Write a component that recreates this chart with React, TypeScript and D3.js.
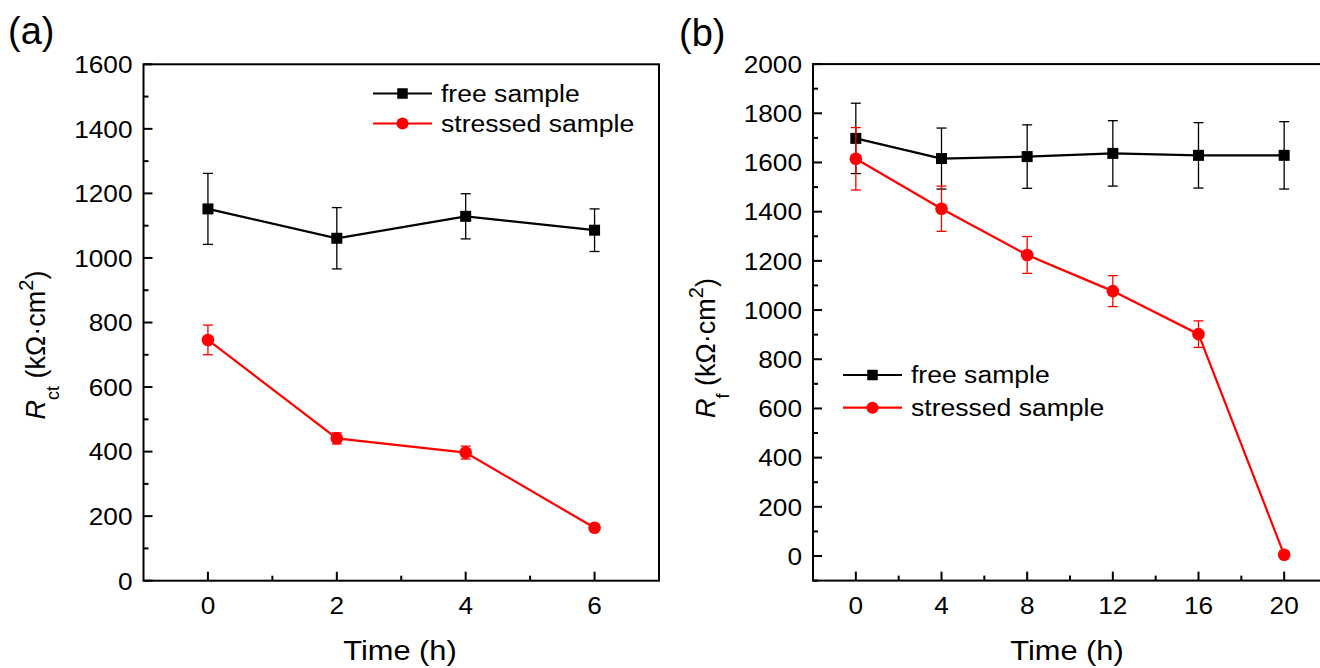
import React from 'react';
import * as d3 from 'd3';

const timesA = [0, 2, 4, 6];
const freeA = [1152, 1061, 1129, 1086];
const freeAErr = [110, 95, 70, 66];
const stressA = [746, 441, 397, 164];
const stressAErr = [46, 17, 20, 4];

const timesB = [0, 4, 8, 12, 16, 20];
const freeB = [1698, 1616, 1624, 1637, 1629, 1629];
const freeBErr = [143, 124, 129, 133, 133, 137];
const stressB = [1615, 1412, 1224, 1077, 902, 5];
const stressBErr = [127, 92, 75, 63, 54, 0];

const xTicksA = [0, 2, 4, 6];
const xMinorA = [1, 3, 5];
const yTicksA = [0, 200, 400, 600, 800, 1000, 1200, 1400, 1600];
const yMinorA = [100, 300, 500, 700, 900, 1100, 1300, 1500];

const xTicksB = [0, 4, 8, 12, 16, 20];
const xMinorB = [2, 6, 10, 14, 18];
const yTicksB = [0, 200, 400, 600, 800, 1000, 1200, 1400, 1600, 1800, 2000];
const yMinorB = [-100, 100, 300, 500, 700, 900, 1100, 1300, 1500, 1700, 1900];

const legendLabels = ['free sample', 'stressed sample'];

const FONT = '"Liberation Sans", Arial, Helvetica, sans-serif';
const RED = '#ff0000';

type Series = { xs: number[]; ys: number[]; errs: number[]; color: string; marker: 'square' | 'circle' };

function Marker({ x, y, color, kind, size }: { x: number; y: number; color: string; kind: string; size: number }) {
  if (kind === 'square') return <rect x={x - size / 2} y={y - size / 2} width={size} height={size} fill={color} />;
  return <circle cx={x} cy={y} r={size / 2 + 0.8} fill={color} />;
}

function SText(props: { x: number; y: number; sx: number; size: number; anchor?: string; dy?: string; children: any }) {
  return (
    <text transform={`translate(${props.x},${props.y}) scale(${props.sx},1)`} textAnchor={props.anchor || 'start'}
      fontSize={props.size} dy={props.dy}>{props.children}</text>
  );
}

function Panel(props: {
  left: number; right: number; top: number; bottom: number;
  xDomain: [number, number]; yDomain: [number, number];
  xTicks: number[]; xMinor: number[]; yTicks: number[]; yMinor: number[];
  series: Series[]; letter: string; letterX: number; letterY: number;
  sub: string; ylabelX: number; ylabelY: number;
  legendX: number; legendY: number; legendGap: number; xTitleX: number;
}) {
  const { left, right, top, bottom } = props;
  const x = d3.scaleLinear().domain(props.xDomain).range([left, right]);
  const y = d3.scaleLinear().domain(props.yDomain).range([bottom, top]);
  const line = d3.line<[number, number]>().x(d => x(d[0])).y(d => y(d[1]));
  const msize = 11;
  return (
    <g fontFamily={FONT}>
      <rect x={left} y={top} width={right - left} height={bottom - top} fill="none" stroke="#000" strokeWidth={2} />
      {props.yTicks.map(t => (
        <g key={'y' + t}>
          <line x1={left} x2={left + 9} y1={y(t)} y2={y(t)} stroke="#000" strokeWidth={2} />
          <SText x={left - 11} y={y(t)} dy="0.36em" anchor="end" size={24.5} sx={1.07}>{t}</SText>
        </g>
      ))}
      {props.yMinor.map(t => (
        <line key={'ym' + t} x1={left} x2={left + 5} y1={y(t)} y2={y(t)} stroke="#000" strokeWidth={2} />
      ))}
      {props.xTicks.map(t => (
        <g key={'x' + t}>
          <line x1={x(t)} x2={x(t)} y1={bottom} y2={bottom - 9} stroke="#000" strokeWidth={2} />
          <SText x={x(t)} y={bottom + 33.5} anchor="middle" size={24.5} sx={1.07}>{t}</SText>
        </g>
      ))}
      {props.xMinor.map(t => (
        <line key={'xm' + t} x1={x(t)} x2={x(t)} y1={bottom} y2={bottom - 5} stroke="#000" strokeWidth={2} />
      ))}
      {props.series.map((s, si) => {
        const pts = s.xs.map((xv, i) => [xv, s.ys[i]] as [number, number]);
        return (
          <g key={'s' + si}>
            <path d={line(pts) || ''} fill="none" stroke={s.color} strokeWidth={2.2} />
            {pts.map((p, i) => s.errs[i] > 0 ? (
              <g key={'e' + i} stroke={s.color} strokeWidth={1.3}>
                <line x1={x(p[0])} x2={x(p[0])} y1={y(p[1] - s.errs[i])} y2={y(p[1] + s.errs[i])} />
                <line x1={x(p[0]) - 5} x2={x(p[0]) + 5} y1={y(p[1] - s.errs[i])} y2={y(p[1] - s.errs[i])} />
                <line x1={x(p[0]) - 5} x2={x(p[0]) + 5} y1={y(p[1] + s.errs[i])} y2={y(p[1] + s.errs[i])} />
              </g>
            ) : null)}
            {pts.map((p, i) => (
              <Marker key={'m' + i} x={x(p[0])} y={y(p[1])} color={s.color} kind={s.marker} size={msize} />
            ))}
          </g>
        );
      })}
      {props.series.map((s, i) => {
        const ly = props.legendY + i * props.legendGap;
        return (
          <g key={'l' + i}>
            <line x1={props.legendX} x2={props.legendX + 59} y1={ly} y2={ly} stroke={s.color} strokeWidth={2.2} />
            <Marker x={props.legendX + 29.5} y={ly} color={s.color} kind={s.marker} size={10.5} />
            <SText x={props.legendX + 68} y={ly} dy="0.36em" size={23.5} sx={1.13}>{legendLabels[i]}</SText>
          </g>
        );
      })}
      <SText x={props.xTitleX} y={660} anchor="middle" size={28} sx={1.1}>Time (h)</SText>
      <text transform={`translate(${props.ylabelX},${props.ylabelY}) rotate(-90)`} textAnchor="middle" fontSize={27}>
        <tspan fontStyle="italic">R</tspan>
        <tspan fontSize={18} dy={14}>{props.sub}</tspan>
        <tspan dy={-14}>{' (kΩ·cm'}</tspan>
        <tspan fontSize={20} dy={-12}>2</tspan>
        <tspan dy={12}>)</tspan>
      </text>
      <text x={props.letterX} y={props.letterY} fontSize={38}>{props.letter}</text>
    </g>
  );
}

export default function App() {
  return (
    <svg width={1320} height={668} style={{ position: 'absolute', left: 0, top: 0, background: '#fff' }}>
      <rect x={0} y={0} width={1320} height={668} fill="#fff" />
      <Panel
        left={143.5} right={659} top={64.3} bottom={580.7}
        xDomain={[-1, 7]} yDomain={[0, 1600]}
        xTicks={xTicksA} xMinor={xMinorA} yTicks={yTicksA} yMinor={yMinorA}
        series={[
          { xs: timesA, ys: freeA, errs: freeAErr, color: '#000', marker: 'square' },
          { xs: timesA, ys: stressA, errs: stressAErr, color: RED, marker: 'circle' },
        ]}
        letter="(a)" letterX={8} letterY={44}
        sub="ct" ylabelX={45} ylabelY={345}
        legendX={373} legendY={93.5} legendGap={30} xTitleX={400}
      />
      <Panel
        left={813} right={1327} top={64.1} bottom={580.6}
        xDomain={[-2, 22]} yDomain={[-100, 2000]}
        xTicks={xTicksB} xMinor={xMinorB} yTicks={yTicksB} yMinor={yMinorB}
        series={[
          { xs: timesB, ys: freeB, errs: freeBErr, color: '#000', marker: 'square' },
          { xs: timesB, ys: stressB, errs: stressBErr, color: RED, marker: 'circle' },
        ]}
        letter="(b)" letterX={679} letterY={46}
        sub="f" ylabelX={715} ylabelY={348}
        legendX={843} legendY={375} legendGap={32.7} xTitleX={1067}
      />
    </svg>
  );
}
